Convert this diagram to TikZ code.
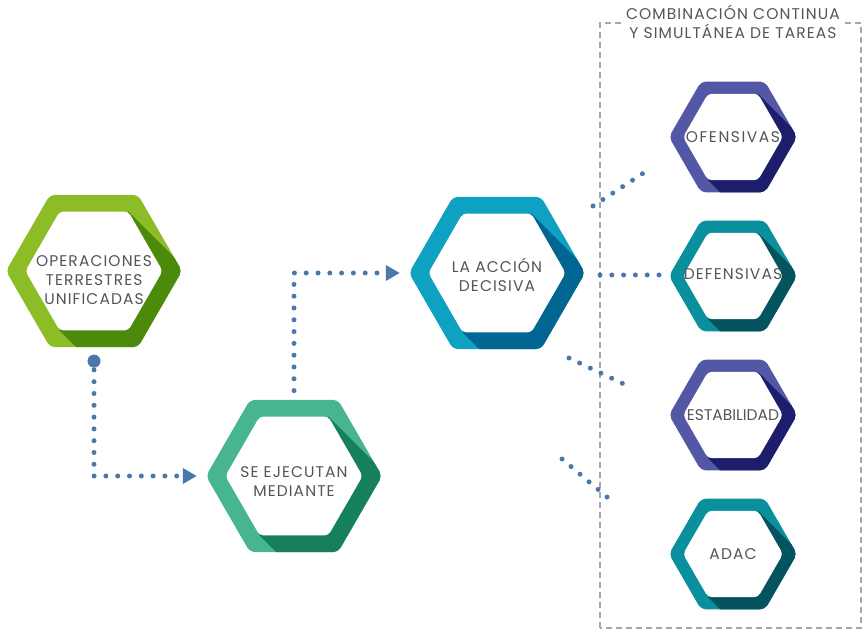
\documentclass[tikz,border=0pt]{standalone}
\usepackage{fontspec}
\setmainfont{Poppins}[LetterSpace=7]
\usetikzlibrary{arrows.meta,positioning}

\definecolor{verdeA}{HTML}{8CBD26}
\definecolor{verdeB}{HTML}{4C8A0C}
\definecolor{menta}{HTML}{48B592}
\definecolor{mentaB}{HTML}{15805A}
\definecolor{celeste}{HTML}{0FA1C1}
\definecolor{celesteB}{HTML}{016792}
\definecolor{morado}{HTML}{5257A6}
\definecolor{moradoB}{HTML}{1C1D6B}
\definecolor{turquesa}{HTML}{0A8F9C}
\definecolor{turquesaB}{HTML}{03545F}
\definecolor{gristexto}{HTML}{545557}
\definecolor{azulpunto}{HTML}{4A78AA}

\tikzset{
  hextexto/.style={align=center, inner sep=0pt, text=gristexto, font=\fontsize{15.5}{19}\selectfont},
  puntos/.style={draw=azulpunto, line width=5pt, line cap=round, dash pattern=on 0pt off 11.8pt},
  flecha/.style={-{Triangle[length=14pt,width=15pt]}, shorten >=9pt},
  punto/.style={circle, fill=azulpunto, inner sep=0pt, minimum size=13pt},
  caja/.style={draw=gray!70, line width=2.5pt, dash pattern=on 6pt off 4pt},
  titulo/.style={fill=white, align=center, inner sep=3pt, text=gristexto, font=\fontsize{15.5}{18.5}\selectfont}
}

% [#1 text options], #2 name, #3 centre, #4 radius, #5 light, #6 dark, #7 text
\newcommand{\hexagono}[7][]{%
  \begin{scope}[shift={#3}]
    \begin{scope}
      \clip[rounded corners=5pt] (-#4,0) -- ({-0.5*#4},{-0.866*#4}) -- ({0.5*#4},{-0.866*#4})
        -- (#4,0) -- ({0.5*#4},{0.866*#4}) -- ({-0.5*#4},{0.866*#4}) -- cycle;
      \fill[#5] (-#4,-#4) rectangle (#4,#4);
      \fill[#6] ({0.39*#4},{0.6755*#4}) -- ++(2*#4,-2*#4) -- ++({-0.78*#4},{-1.351*#4})
        -- ({-0.39*#4},{-0.6755*#4}) -- cycle; %shadow
    \end{scope}
    \fill[white, rounded corners=4pt] ({-0.78*#4},0) -- ({-0.39*#4},{-0.6755*#4}) -- ({0.39*#4},{-0.6755*#4})
      -- ({0.78*#4},0) -- ({0.39*#4},{0.6755*#4}) -- ({-0.39*#4},{0.6755*#4}) -- cycle;
  \end{scope}
  \node[inner sep=0pt, minimum width={2*#4pt}, minimum height={1.732*#4pt}] (#2) at #3 {};
  \node[hextexto, #1] (#2-t) at (#2) {#7};
}

\begin{document}
\begin{tikzpicture}[x=1pt,y=1pt]
  \useasboundingbox (0,0) rectangle (863,630);

  %tareas box
  \draw[caja] (600,2) rectangle (861,607);
  \node[titulo] (tit) at (733,608) {COMBINACIÓN CONTINUA\\Y SIMULTÁNEA DE TAREAS};

  %hexagons
  \hexagono[yshift=-9pt]{op}{(94,359)}{88}{verdeA}{verdeB}{OPERACIONES\\TERRESTRES\\UNIFICADAS}
  \hexagono[yshift=-6pt]{se}{(294,154)}{88}{menta}{mentaB}{SE EJECUTAN\\MEDIANTE}
  \hexagono[yshift=-2pt]{la}{(497,357)}{88}{celeste}{celesteB}{LA ACCIÓN\\DECISIVA}
  \hexagono[font=\fontsize{15.5}{19}\selectfont\addfontfeature{LetterSpace=10}]{of}{(733,493)}{64}{morado}{moradoB}{OFENSIVAS}
  \hexagono[yshift=2pt]{de}{(733,354)}{64}{turquesa}{turquesaB}{DEFENSIVAS}
  \hexagono[font=\fontsize{15.5}{19}\selectfont\addfontfeature{LetterSpace=0}]{es}{(733,215)}{64}{morado}{moradoB}{ESTABILIDAD}
  \hexagono{ad}{(733,76)}{64}{turquesa}{turquesaB}{ADAC}

  %main flow
  \node[punto, below=7pt of op] (d1) {};
  \draw[puntos, flecha] ([yshift=-8.8pt]d1.center) |- (se.west);
  \draw[puntos, flecha] ([yshift=9pt]se.north) |- (la.west);

  %short dotted lines to the tasks
  \coordinate (a1) at (593,424); \coordinate (b1) at (642.5,456.3);
  \coordinate (a2) at (600,355); \coordinate (b2) at (659.5,355);
  \coordinate (a3) at (569,272); \coordinate (b3) at (622.5,246.6);
  \coordinate (a4) at (562,171); \coordinate (b4) at (607.5,132.6);
  \draw[puntos] (a1) -- (b1);
  \draw[puntos] (a2) -- (b2);
  \draw[puntos] (a3) -- (b3);
  \draw[puntos] (a4) -- (b4);
\end{tikzpicture}
\end{document}
